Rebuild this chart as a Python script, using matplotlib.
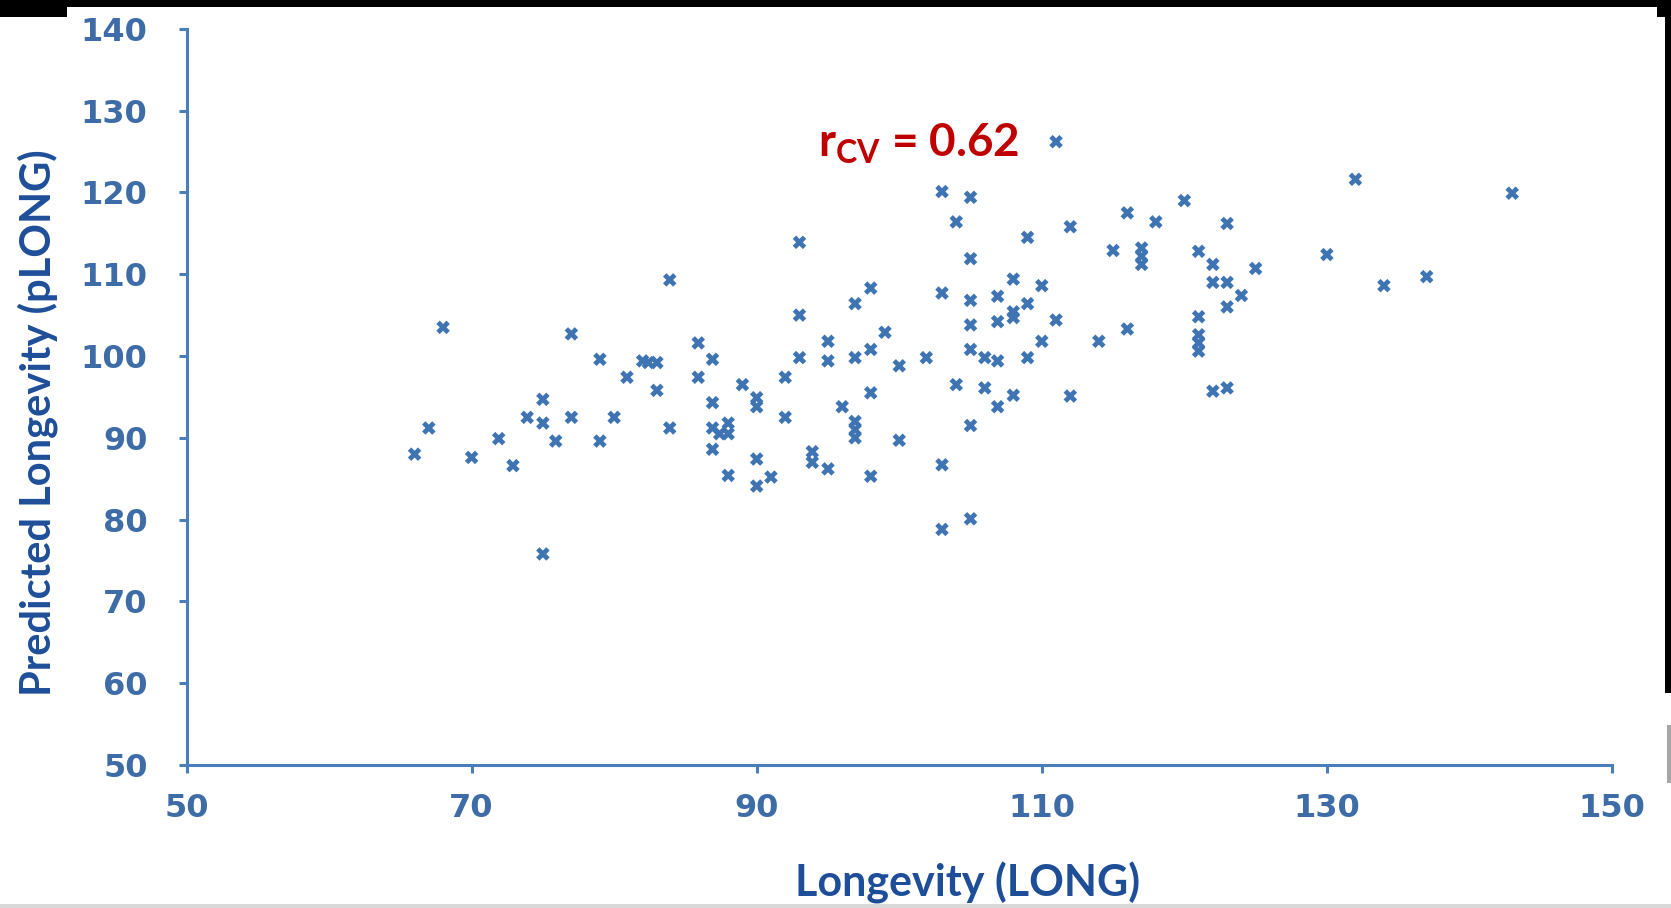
import matplotlib
matplotlib.use("Agg")
import matplotlib.pyplot as plt
from matplotlib.patches import Rectangle

# LONG vs predicted pLONG
long_obs = [66.0, 67.0, 68.0, 70.0, 71.9, 72.9, 73.9, 75.0, 75.0, 75.0,
            75.9, 77.0, 77.0, 79.0, 79.0, 80.0, 80.9, 82.0, 82.4, 83.0,
            83.0, 83.9, 83.9, 85.9, 85.9, 86.9, 86.9, 86.9, 86.9, 87.4,
            88.0, 88.0, 88.0, 89.0, 90.0, 90.0, 90.0, 90.0, 91.0, 92.0,
            92.0, 93.0, 93.0, 93.0, 93.9, 93.9, 95.0, 95.0, 95.0, 96.0,
            96.9, 96.9, 96.9, 96.9, 96.9, 98.0, 98.0, 98.0, 98.0, 99.0,
            100.0, 100.0, 101.9, 103.0, 103.0, 103.0, 103.0, 104.0, 104.0, 105.0,
            105.0, 105.0, 105.0, 105.0, 105.0, 105.0, 106.0, 106.0, 106.9, 106.9,
            106.9, 106.9, 108.0, 108.0, 108.0, 108.0, 109.0, 109.0, 109.0, 110.0,
            110.0, 111.0, 111.0, 112.0, 112.0, 114.0, 115.0, 116.0, 116.0, 117.0,
            117.0, 117.0, 118.0, 120.0, 121.0, 121.0, 121.0, 121.0, 121.0, 122.0,
            122.0, 122.0, 123.0, 123.0, 123.0, 123.0, 124.0, 125.0, 130.0, 132.0,
            134.0, 137.0, 143.0]
long_pred = [88.0, 91.2, 103.5, 87.6, 89.9, 86.6, 92.5, 94.7, 91.8, 75.8,
             89.6, 102.7, 92.5, 99.6, 89.6, 92.5, 97.4, 99.4, 99.2, 99.2,
             95.8, 109.3, 91.2, 101.6, 97.4, 99.6, 94.3, 91.2, 88.6, 90.5,
             91.8, 90.5, 85.4, 96.5, 94.9, 93.8, 87.4, 84.1, 85.2, 97.4,
             92.5, 113.9, 105.0, 99.8, 88.3, 87.0, 101.8, 99.4, 86.2, 93.8,
             106.4, 99.8, 92.0, 91.0, 90.0, 108.3, 100.8, 95.5, 85.3, 102.9,
             98.8, 89.7, 99.8, 120.1, 107.7, 86.7, 78.8, 116.4, 96.5, 119.4,
             111.9, 106.8, 103.8, 100.8, 91.5, 80.1, 99.8, 96.1, 107.3, 104.2,
             99.4, 93.8, 104.7, 109.4, 105.4, 95.2, 114.5, 106.4, 99.8, 108.6,
             101.8, 126.2, 104.4, 115.8, 95.1, 101.8, 112.9, 117.5, 103.3, 113.2,
             112.2, 111.2, 116.4, 119.0, 112.8, 104.8, 102.6, 101.6, 100.6, 111.2,
             109.0, 95.7, 116.2, 109.0, 106.0, 96.1, 107.4, 110.7, 112.4, 121.6,
             108.6, 109.7, 119.9]

xticks = [50, 70, 90, 110, 130, 150]
yticks = [50, 60, 70, 80, 90, 100, 110, 120, 130, 140]
r_cv = 0.62

plt.rcParams['mathtext.fontset'] = 'custom'
plt.rcParams['mathtext.it'] = 'Lato:bold'
plt.rcParams['mathtext.rm'] = 'Lato:bold'

W, H = 1671, 908
fig = plt.figure(figsize=(W / 100, H / 100), dpi=100)
ax = fig.add_axes([186.5 / W, 143 / H, (1612 - 186.5) / W, (765 - 28.8) / H])

axis_col = '#4a7ebb'
tick_col = '#3d6ca6'
label_col = '#1f4e99'

ax.scatter(long_obs, long_pred, marker='X', s=95, color='#3f74b3',
           edgecolors='none', zorder=3)

ax.set_xlim(50, 150)
ax.set_ylim(50, 140)
ax.set_xticks(xticks)
ax.set_yticks(yticks)
for s in ['top', 'right']:
    ax.spines[s].set_visible(False)
for s in ['left', 'bottom']:
    ax.spines[s].set_color(axis_col)
    ax.spines[s].set_linewidth(2.2)
ax.tick_params(axis='both', direction='out', length=6, width=2.2, color=axis_col,
               labelcolor=tick_col, labelsize=23)
ax.tick_params(axis='y', pad=22)
ax.tick_params(axis='x', pad=14)
for lab in ax.get_xticklabels() + ax.get_yticklabels():
    lab.set_fontweight('bold')

ax.set_xlabel('Longevity (LONG)', fontsize=31, fontweight='bold', family='Lato',
              color=label_col)
ax.xaxis.set_label_coords(0.548, -0.131)
ax.set_ylabel('Predicted Longevity (pLONG)', fontsize=30, fontweight='bold', family='Lato',
              color=label_col)
ax.yaxis.set_label_coords(-0.09, 0.465)

ax.text(94.3, 124.4, r'$r_{\mathrm{CV}}$ = ' + f'{r_cv:.2f}', fontsize=33, fontweight='bold',
        family='Lato', color='#c00000', ha='left', va='baseline')

# screenshot borders
def box(x0, y0, x1, y1, col):
    fig.add_artist(Rectangle((x0 / W, 1 - y1 / H), (x1 - x0) / W, (y1 - y0) / H,
                             transform=fig.transFigure, color=col, zorder=10, lw=0))

box(0, 0, W, 7, 'black')
box(0, 0, 67, 17, 'black')
box(1657, 0, W, 17, 'black')
box(1665, 0, W, 693, 'black')
box(1667, 725, W, 783, '#a6a6a6')
box(0, 904, W, H, '#d9d9d9')

fig.savefig('out.png', dpi=100)
